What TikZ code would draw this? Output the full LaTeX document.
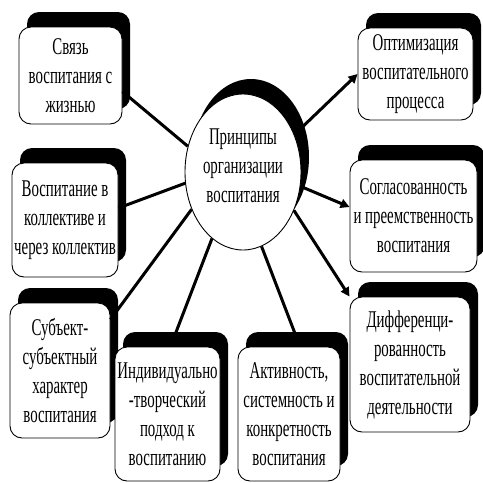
\documentclass[tikz,border=0pt]{standalone}
\usepackage{fontspec}
\setmainfont{Liberation Serif}[FakeStretch=0.62]
\usetikzlibrary{shapes.geometric,shadows,arrows.meta}
\begin{document}
\begin{tikzpicture}[x=1pt,y=-1pt,
  txt/.style={font=\fontsize{24}{29}\selectfont, align=center},
  shad/.style={drop shadow={shadow xshift=8pt, shadow yshift=15pt, fill=black, opacity=1}},
  box/.style={draw, line width=0.9pt, fill=white, rounded corners=12pt, inner sep=0pt, txt, shad},
  link/.style={line width=3pt},
  arr/.style={line width=3pt, -{Triangle[length=9pt,width=9pt]}}]
\useasboundingbox (0,0) rectangle (483,483);
\fill[white] (0,0) rectangle (483,483);

\node[ellipse, draw, line width=0.9pt, fill=white, minimum width=116pt, minimum height=156pt, inner sep=0pt, shad] (c) at (243,172) {};
\node[txt] (ct) at (243,166) {Принципы\\организации\\воспитания};

\node[box, minimum width=103pt, minimum height=97pt]  (b1) at (70.5,75.5) {Связь\\воспитания с\\жизнью};
\node[box, minimum width=106pt, minimum height=114pt] (b2) at (65,220) {Воспитание в\\коллективе и\\через коллектив};
\node[box, minimum width=100pt, minimum height=135pt] (b3) at (60,370.5) {Субъект-\\субъектный\\характер\\воспитания};
\node[box, minimum width=105pt, minimum height=134pt] (b4) at (167.5,414) {Индивидуально\\-творческий\\подход к\\воспитанию};
\node[box, minimum width=102pt, minimum height=134pt] (b5) at (289,414) {Активность,\\системность и\\конкретность\\воспитания};
\node[box, minimum width=120pt, minimum height=135pt] (b6) at (410,364.5) {Дифференци-\\рованность\\воспитательной\\деятельности};
\node[box, minimum width=127pt, minimum height=112pt] (b7) at (413.5,216) {Согласованность\\и преемственность\\воспитания};
\node[box, minimum width=115pt, minimum height=92pt]  (b8) at (415.5,74) {Оптимизация\\воспитательного\\процесса};

\draw[link] (c.155) -- ([yshift=-16pt]b1.east);
\draw[link] (c.191) -- ([yshift=12pt]b2.east);
\draw[link] (c.216) -- ([yshift=-17pt]b3.north east);
\draw[link] (c.245) -- ([xshift=3pt]b4.north);
\draw[link] (c.284) -- ([xshift=11pt]b5.north);
\draw[arr] (c.323) -- (b6.north west);
\draw[arr] (c.346) -- ([yshift=9pt]b7.west);
\draw[arr] (c.36) -- (b8.west);
\end{tikzpicture}
\end{document}
